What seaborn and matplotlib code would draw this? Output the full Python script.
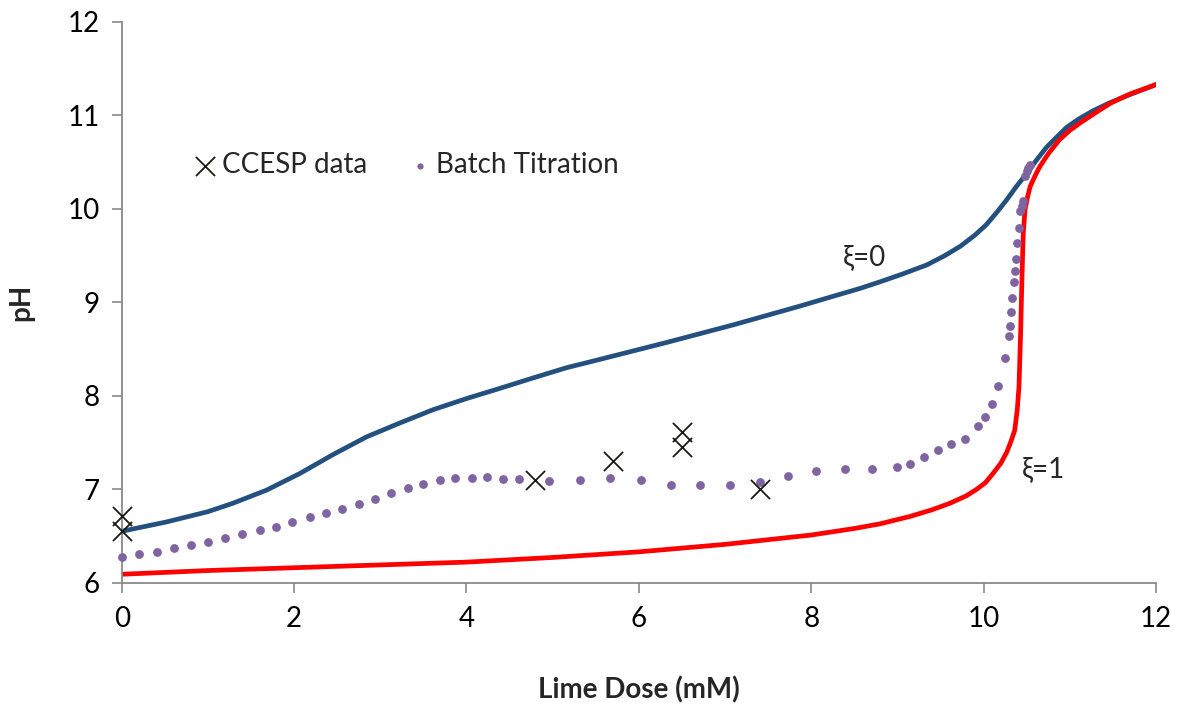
import matplotlib
matplotlib.use("Agg")
import matplotlib.pyplot as plt
import seaborn as sns
import pandas as pd

# Equilibrium titration curve, no precipitation (xi = 0)
xi0_dose = [0.00, 0.52, 1.00, 1.29, 1.68, 2.07, 2.45, 2.84, 3.23, 3.61, 4.00,
            4.39, 4.77, 5.16, 5.55, 6.32, 7.10, 7.87, 8.20, 8.57, 8.80, 9.05,
            9.34, 9.55, 9.73, 9.90, 10.03, 10.15, 10.27, 10.38, 10.50, 10.62,
            10.73, 10.85, 10.96, 11.10, 11.27, 11.45, 11.66, 11.83, 12.00]
xi0_ph = [6.55, 6.65, 6.76, 6.85, 6.99, 7.17, 7.37, 7.56, 7.71, 7.85, 7.97,
          8.08, 8.19, 8.30, 8.39, 8.57, 8.76, 8.96, 9.05, 9.15, 9.22, 9.30,
          9.40, 9.50, 9.60, 9.72, 9.83, 9.96, 10.10, 10.24, 10.38, 10.53,
          10.66, 10.77, 10.87, 10.96, 11.05, 11.13, 11.21, 11.27, 11.33]

# Equilibrium titration curve, full precipitation (xi = 1)
xi1_dose = [0.00, 1.00, 2.00, 3.00, 4.00, 5.00, 6.00, 6.50, 7.00, 7.50, 8.00,
            8.50, 8.80, 9.15, 9.40, 9.61, 9.80, 9.92, 10.02, 10.11, 10.20,
            10.27, 10.32, 10.36, 10.39, 10.41, 10.42, 10.43, 10.44, 10.45,
            10.46, 10.48, 10.51, 10.54, 10.60, 10.65, 10.75, 10.88, 11.00,
            11.12, 11.30, 11.47, 11.70, 12.00]
xi1_ph = [6.09, 6.13, 6.16, 6.19, 6.22, 6.27, 6.33, 6.37, 6.41, 6.46, 6.51,
          6.58, 6.63, 6.71, 6.78, 6.85, 6.93, 7.00, 7.07, 7.17, 7.28,
          7.40, 7.52, 7.63, 7.85, 8.10, 8.40, 8.71, 9.10, 9.45,
          9.75, 9.99, 10.13, 10.24, 10.36, 10.45, 10.59, 10.74, 10.84,
          10.92, 11.03, 11.13, 11.23, 11.33]

# Batch titration measurements
batch_dose = [0.00, 0.20, 0.41, 0.61, 0.80, 1.00, 1.20, 1.40, 1.60, 1.79,
              1.98, 2.18, 2.37, 2.56, 2.75, 2.94, 3.13, 3.32, 3.50, 3.69,
              3.87, 4.06, 4.24, 4.42, 4.61, 4.96, 5.32, 5.67, 6.02, 6.37,
              6.71, 7.06, 7.40, 7.73, 8.06, 8.39, 8.71, 8.99, 9.15, 9.31,
              9.47, 9.62, 9.78, 9.94, 10.02, 10.10, 10.17, 10.25, 10.29,
              10.30, 10.32, 10.33, 10.35, 10.36, 10.38, 10.39, 10.41, 10.42,
              10.44, 10.46, 10.48, 10.50, 10.52, 10.54]
batch_ph = [6.27, 6.31, 6.33, 6.37, 6.40, 6.44, 6.48, 6.52, 6.56, 6.60,
            6.65, 6.70, 6.75, 6.79, 6.84, 6.90, 6.96, 7.01, 7.06, 7.10,
            7.12, 7.12, 7.13, 7.11, 7.11, 7.09, 7.10, 7.12, 7.10, 7.04,
            7.05, 7.05, 7.08, 7.14, 7.20, 7.22, 7.22, 7.24, 7.27, 7.34,
            7.42, 7.48, 7.54, 7.68, 7.77, 7.91, 8.10, 8.40, 8.64,
            8.75, 8.90, 9.05, 9.22, 9.33, 9.46, 9.63, 9.79, 9.98,
            10.03, 10.08, 10.35, 10.40, 10.44, 10.47]

# CCESP reactor data
ccesp_dose = [0.0, 0.0, 4.8, 5.7, 6.5, 6.5, 7.4]
ccesp_ph = [6.71, 6.55, 7.10, 7.30, 7.61, 7.45, 7.00]

xi0 = pd.DataFrame({"dose": xi0_dose, "pH": xi0_ph})
xi1 = pd.DataFrame({"dose": xi1_dose, "pH": xi1_ph})
batch = pd.DataFrame({"dose": batch_dose, "pH": batch_ph})
ccesp = pd.DataFrame({"dose": ccesp_dose, "pH": ccesp_ph})

sns.set_theme(style="white")
plt.rcParams["font.family"] = ["Lato", "DejaVu Sans"]

fig = plt.figure(figsize=(11.77, 7.08), dpi=100)
ax = fig.add_axes([0.1034, 0.177, 0.8788, 0.792])

axis_grey = "#898989"

sns.lineplot(data=xi0, x="dose", y="pH", ax=ax, color="#24507F", lw=3.4,
             estimator=None, sort=False, legend=False)
sns.lineplot(data=xi1, x="dose", y="pH", ax=ax, color="#FF0000", lw=3.4,
             estimator=None, sort=False, legend=False)
sns.scatterplot(data=batch, x="dose", y="pH", ax=ax, color="#8064A2", s=40,
                linewidth=0, marker="o", label="Batch Titration", zorder=3,
                clip_on=False)
sns.scatterplot(data=ccesp, x="dose", y="pH", ax=ax, color="#1A1A14", s=190,
                marker="x", linewidth=1.3, label="CCESP data", zorder=4,
                clip_on=False)

ax.set_xlim(0, 12)
ax.set_ylim(6, 12)
ax.set_xticks(range(0, 13, 2))
ax.set_yticks(range(6, 13))

for side in ("top", "right"):
    ax.spines[side].set_visible(False)
for side in ("left", "bottom"):
    ax.spines[side].set_color(axis_grey)
    ax.spines[side].set_linewidth(1.3)
ax.tick_params(axis="both", which="major", direction="out", length=7,
               width=1.2, color=axis_grey, labelsize=20, labelcolor="black",
               left=True, bottom=True)
ax.tick_params(axis="x", pad=10)
ax.tick_params(axis="y", pad=9)
ax.grid(False)

ax.set_xlabel("Lime Dose (mM)", fontsize=20, fontweight="bold", labelpad=32)
ax.set_ylabel("pH", fontsize=20, fontweight="bold", labelpad=24)

ax.text(8.62, 9.48, "ξ=0", fontsize=20, ha="center", va="center")
ax.text(10.69, 7.21, "ξ=1", fontsize=20, ha="center", va="center")

handles, labels = ax.get_legend_handles_labels()
order = [labels.index("CCESP data"), labels.index("Batch Titration")]
leg = ax.legend([handles[i] for i in order], [labels[i] for i in order],
                loc="center left", bbox_to_anchor=(0.043, 0.745), ncol=2,
                frameon=False, fontsize=20, handletextpad=0.1,
                columnspacing=1.4, handlelength=1.0)
# legend keys: full-size cross, small titration dot
leg.legend_handles[0].set_sizes([190])
leg.legend_handles[1].set_sizes([20])

fig.savefig("out.png", dpi=100)
